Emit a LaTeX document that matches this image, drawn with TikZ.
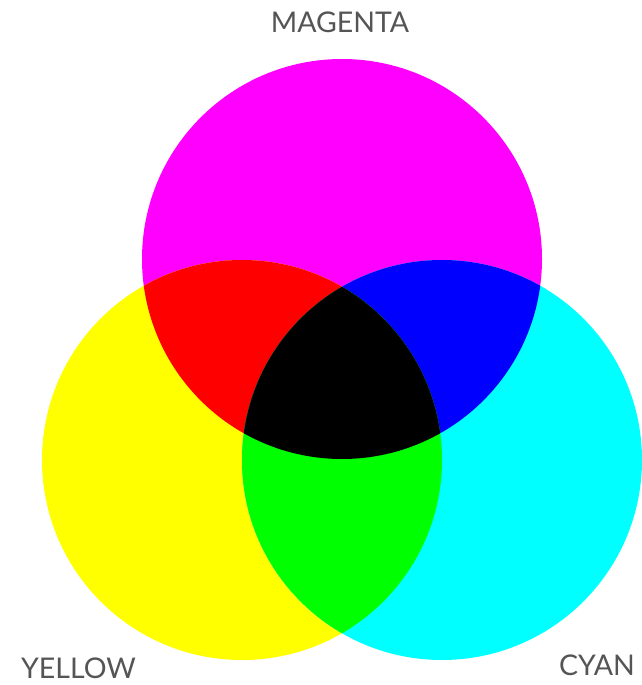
\documentclass[tikz,border=0pt]{standalone}
\usepackage{fontspec}
\setmainfont{Lato}
\definecolor{pmag}{RGB}{255,0,255}
\definecolor{pyel}{RGB}{255,255,0}
\definecolor{pcya}{RGB}{0,255,255}
\definecolor{pred}{RGB}{255,0,0}
\definecolor{pgre}{RGB}{0,255,0}
\definecolor{pblu}{RGB}{0,0,255}
\definecolor{lblgray}{RGB}{85,85,85}
\begin{document}
\begin{tikzpicture}[x=1pt,y=-1pt,
  lbl/.style={text=lblgray, font=\fontsize{28.5}{28.5}\selectfont, inner sep=0pt, anchor=base}]
\useasboundingbox (0,0) rectangle (641,685);
\fill[white] (0,0) rectangle (641,685);
\def\magpath{(342,259) circle[radius=200]}
\def\yelpath{(242,460) circle[radius=200]}
\def\cyapath{(442,460) circle[radius=200]}
\fill[pmag] \magpath;
\fill[pyel] \yelpath;
\fill[pcya] \cyapath;
\begin{scope}
  \clip \magpath;
  \fill[pred] \yelpath;
  \fill[pblu] \cyapath;
\end{scope}
\begin{scope}
  \clip \yelpath;
  \fill[pgre] \cyapath;
  \clip \cyapath;
  \fill[black] \magpath;
\end{scope}
\node[lbl] (m) at (340,33) {MAGENTA};
\node[lbl] (y) at (78.5,678) {YELLOW};
\node[lbl] (c) at (597,675) {CYAN};
\end{tikzpicture}
\end{document}
